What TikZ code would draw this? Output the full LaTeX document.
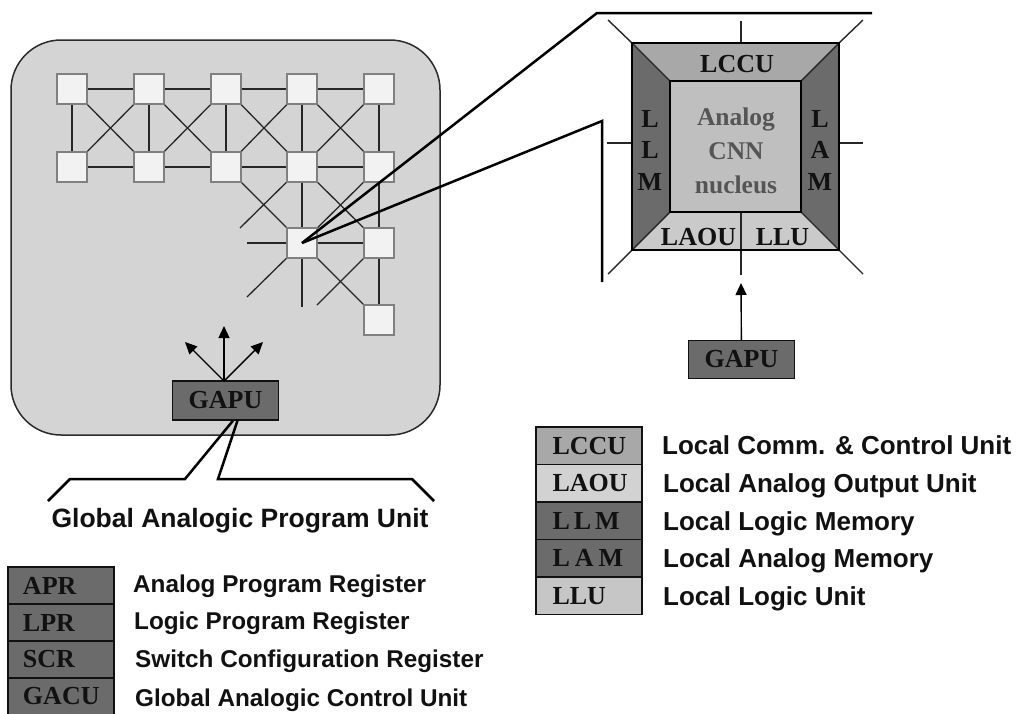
\documentclass[tikz,border=0pt]{standalone}
\usepackage{fontspec}
\setmainfont{Liberation Serif}
\newfontfamily\arialfont{Liberation Sans}
\usetikzlibrary{arrows.meta}
\definecolor{chipfill}{HTML}{D4D4D4}
\definecolor{chipborder}{HTML}{2A2A2A}
\definecolor{sqfill}{HTML}{F2F2F2}
\definecolor{sqborder}{HTML}{808080}
\definecolor{gline}{HTML}{262626}
\definecolor{darkfill}{HTML}{6B6B6B}
\definecolor{midfill}{HTML}{A8A8A8}
\definecolor{lightfill}{HTML}{CACACA}
\definecolor{nucfill}{HTML}{BFBFBF}
\definecolor{laoufill}{HTML}{D2D2D2}
\definecolor{llufill}{HTML}{C6C6C6}
\definecolor{labtext}{HTML}{111111}
\definecolor{nuctextcol}{HTML}{555555}
\begin{document}
\begin{tikzpicture}[x=1pt,y=-1pt,
  chipbox/.style={draw=chipborder, line width=1.5pt, fill=chipfill, rounded corners=50pt,
    minimum width=429pt, minimum height=395pt, inner sep=0pt},
  cellsq/.style={draw=sqborder, line width=1.5pt, fill=sqfill, minimum size=30pt, inner sep=0pt},
  gridline/.style={draw=gline, line width=1.3pt},
  zoomline/.style={draw=black, line width=2.5pt},
  stubline/.style={draw=gline, line width=1.4pt},
  frameline/.style={draw=black, line width=2.6pt},
  arrowline/.style={draw=black, line width=1.4pt, -{Triangle[width=11pt,length=12pt]}},
  serlab/.style={font=\fontsize{26}{30}\selectfont\bfseries, text=labtext, inner sep=0pt},
  gapubox/.style={draw=labtext, line width=1.3pt, fill=darkfill, minimum width=106pt,
    minimum height=38pt, inner sep=0pt, font=\fontsize{26}{30}\selectfont\bfseries, text=labtext},
  regbox/.style={draw=labtext, line width=1.2pt, minimum height=37pt, inner xsep=15pt, inner ysep=0pt,
    text width=76pt, align=left, font=\fontsize{26}{30}\selectfont\bfseries, text=labtext},
  locbox/.style={draw=labtext, line width=1.2pt, minimum height=37.5pt, inner xsep=16.5pt, inner ysep=0pt,
    text width=73pt, align=left, font=\fontsize{26}{30}\selectfont\bfseries, text=labtext},
  regdesc/.style={anchor=base west, inner sep=0pt, font=\arialfont\fontsize{24.3}{28}\selectfont\bfseries, text=labtext},
  locdesc/.style={anchor=base west, inner sep=0pt, font=\arialfont\fontsize{26}{30}\selectfont\bfseries, text=labtext},
  captext/.style={anchor=base, inner sep=0pt, font=\arialfont\fontsize{26.5}{30}\selectfont\bfseries, text=labtext}
]
\useasboundingbox (0,0) rectangle (1027,713);

% ---------- chip ----------
\node[chipbox] (chip) at (225.5,237.5) {};

\foreach \c/\x in {1/72,2/149,3/226,4/302,5/379} {
  \node[cellsq] (a\c) at (\x,89) {};
  \node[cellsq] (b\c) at (\x,167) {};
}
\node[cellsq] (c4) at (302,243) {};
\node[cellsq] (c5) at (379,243) {};
\node[cellsq] (d5) at (379,320) {};

\foreach \i/\j in {1/2,2/3,3/4,4/5} {
  \draw[gridline] (a\i) -- (a\j);
  \draw[gridline] (b\i) -- (b\j);
  \draw[gridline] (a\i) -- (b\j);
  \draw[gridline] (b\i) -- (a\j);
}
\foreach \i in {1,...,5} { \draw[gridline] (a\i) -- (b\i); }

\coordinate (s1) at (240,228);
\coordinate (s2) at (247,243);
\coordinate (s3) at (302,307);
\coordinate (s4) at (247,297);
\coordinate (s5) at (317,305);
\draw[gridline] (b4) -- (c4);
\draw[gridline] (b5) -- (c5);
\draw[gridline] (b4) -- (c5);
\draw[gridline] (b5) -- (c4);
\draw[gridline] (b3) -- (c4);
\draw[gridline] (b4) -- (s1);
\draw[gridline] (c4) -- (c5);
\draw[gridline] (c4) -- (s2);
\draw[gridline] (c5) -- (d5);
\draw[gridline] (c4) -- (d5);
\draw[gridline] (c4) -- (s3);
\draw[gridline] (c4) -- (s4);
\draw[gridline] (c5) -- (s5);

% ---------- zoom lines ----------
\coordinate (zt1) at (597,13);
\coordinate (zt2) at (872,13);
\coordinate (zb1) at (602,121);
\coordinate (zb2) at (602,282);
\draw[zoomline] (c4.center) -- (zt1) -- (zt2);
\draw[zoomline] (c4.center) -- (zb1) -- (zb2);

% ---------- enlarged cell ----------
\node[minimum size=207pt, inner sep=0pt, outer sep=0pt] (cell) at (735.5,146.5) {};
\node[minimum size=131pt, inner sep=0pt, outer sep=0pt] (nuc) at (735.5,146.5) {};
\fill[midfill] (cell.north west) -- (cell.north east) -- (nuc.north east) -- (nuc.north west) -- cycle;
\fill[darkfill] (cell.north west) -- (nuc.north west) -- (nuc.south west) -- (cell.south west) -- cycle;
\fill[darkfill] (cell.north east) -- (nuc.north east) -- (nuc.south east) -- (cell.south east) -- cycle;
\fill[lightfill] (cell.south west) -- (nuc.south west) -- (nuc.south east) -- (cell.south east) -- cycle;
\fill[nucfill] (nuc.north west) rectangle (nuc.south east);
\draw[stubline] (cell.north west) -- (nuc.north west);
\draw[stubline] (cell.north east) -- (nuc.north east);
\draw[stubline] (cell.south west) -- (nuc.south west);
\draw[stubline] (cell.south east) -- (nuc.south east);

\coordinate (vx) at (741,0);
\coordinate (stN) at (741,21);
\coordinate (stS) at (741,275);
\coordinate (stW) at (607,143);
\coordinate (stE) at (863,143);
\coordinate (stNW) at (608,20);
\coordinate (stNE) at (863,20);
\coordinate (stSW) at (608,274);
\coordinate (stSE) at (863,274);
\draw[stubline] (stN) -- (stN |- cell.north);
\draw[stubline] (vx |- nuc.south) -- (stS);
\draw[stubline] (stW) -- (stW -| cell.west);
\draw[stubline] (stE) -- (stE -| cell.east);
\draw[stubline] (stNW) -- (cell.north west);
\draw[stubline] (stNE) -- (cell.north east);
\draw[stubline] (stSW) -- (cell.south west);
\draw[stubline] (stSE) -- (cell.south east);

\draw[frameline] (cell.north west) rectangle (cell.south east);
\draw[frameline] (nuc.north west) rectangle (nuc.south east);

\node[serlab, anchor=base] (lccu) at (737,72) {LCCU};
\node[serlab, anchor=base] (laou) at (698.5,245) {LAOU};
\node[serlab, anchor=base] (llu) at (782.5,245) {LLU};
\node[serlab, align=center, font=\fontsize{26}{31.5}\selectfont\bfseries] (llm) at (650,150) {L\\L\\M};
\node[serlab, align=center, font=\fontsize{26}{31.5}\selectfont\bfseries] (lam) at (820,150) {L\\A\\M};
\node[serlab, align=center, text=nuctextcol, font=\fontsize{25.5}{34}\selectfont\bfseries] (nuct) at (736,150.5) {Analog\\CNN\\nucleus};

% ---------- GAPU (right) ----------
\node[gapubox] (g2) at (741.5,359.5) {GAPU};
\coordinate (g2tip) at (741,283);
\draw[arrowline] (g2) -- (g2tip);

% ---------- GAPU (left) ----------
\node[gapubox, minimum height=39pt] (g1) at (225.5,400.5) {GAPU};
\coordinate (g1up) at (224,326);
\coordinate (g1l) at (185,342);
\coordinate (g1r) at (263,342);
\coordinate (g1o) at (224,381);
\draw[arrowline] (g1o) -- (g1up);
\draw[arrowline] (g1o) -- (g1l);
\draw[arrowline] (g1o) -- (g1r);

\coordinate (p1) at (185,479);
\coordinate (p2) at (70,479);
\coordinate (p3) at (48,501);
\coordinate (q1) at (218,479);
\coordinate (q2) at (412,479);
\coordinate (q3) at (434,501);
\draw[zoomline] ([xshift=7.5pt]g1.south) -- (p1) -- (p2) -- (p3);
\draw[zoomline] ([xshift=12pt]g1.south) -- (q1) -- (q2) -- (q3);

\node[captext] (cap) at (240,527) {Global Analogic Program Unit};

% ---------- left legend ----------
\node[regbox, fill=darkfill] (apr) at (61,585.5) {APR};
\node[regbox, fill=darkfill] (lpr) at (61,622.5) {LPR};
\node[regbox, fill=darkfill] (scr) at (61,659.5) {SCR};
\node[regbox, fill=darkfill] (gacu) at (61,696.5) {GACU};
\node[regdesc] (aprd) at (133,592) {Analog Program Register};
\node[regdesc] (lprd) at (134,629.5) {Logic Program Register};
\node[regdesc] (scrd) at (135,667.5) {Switch Configuration Register};
\node[regdesc] (gacud) at (135,706) {Global Analogic Control Unit};

% ---------- right legend ----------
\node[locbox, fill=midfill] (lccul) at (589,445.75) {LCCU};
\node[locbox, fill=laoufill] (laoul) at (589,483.25) {LAOU};
\node[locbox, fill=darkfill] (llml) at (589,520.75) {L\kern4pt L\kern4pt M};
\node[locbox, fill=darkfill] (laml) at (589,558.25) {L\kern5pt A\kern5pt M};
\node[locbox, fill=llufill] (llul) at (589,595.75) {LLU};
\node[locdesc] (lccud) at (662,454) {Local Comm. \& Control Unit};
\node[locdesc] (laoud) at (663,492) {Local Analog Output Unit};
\node[locdesc] (llmd) at (663,530) {Local Logic Memory};
\node[locdesc] (lamd) at (663,567.5) {Local Analog Memory};
\node[locdesc] (llud) at (663,605) {Local Logic Unit};
\end{tikzpicture}
\end{document}
